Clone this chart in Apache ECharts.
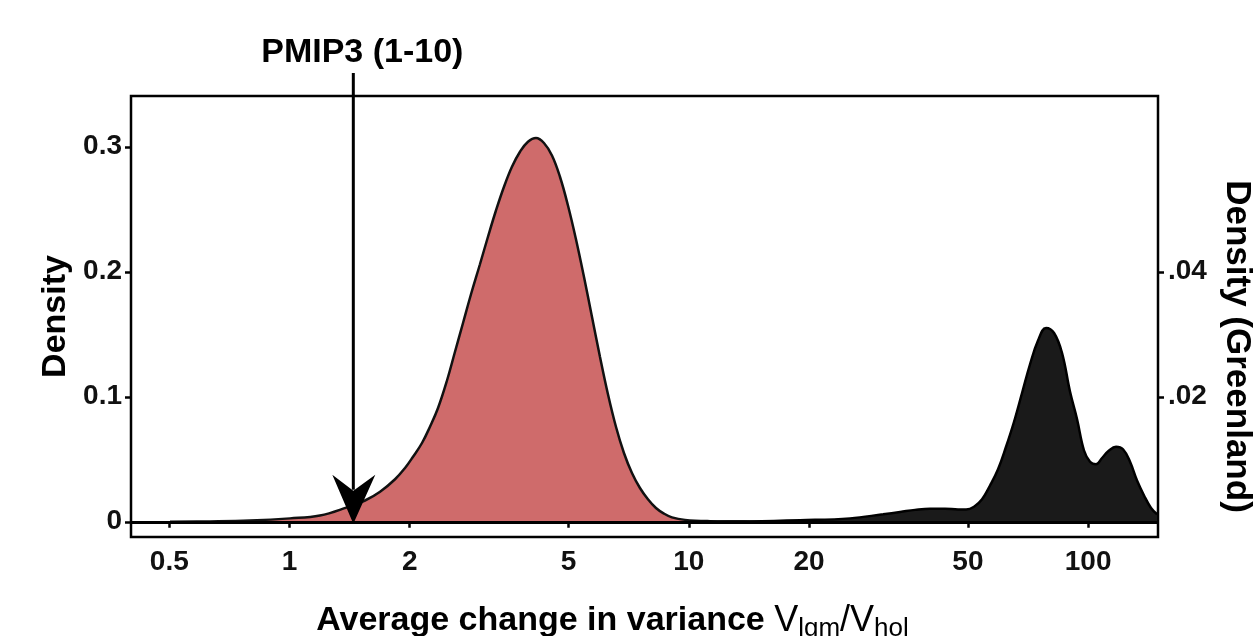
<!DOCTYPE html>
<html><head><meta charset="utf-8">
<script src="https://cdn.jsdelivr.net/npm/echarts@6/dist/echarts.min.js"></script>
<style>html,body{margin:0;padding:0;background:#fff}#c{width:1258px;height:636px}</style>
</head><body><div id="c"></div>
<script>
// ---- data ----
const xTicks = [0.5, 1, 2, 5, 10, 20, 50, 100];
const leftTicks = [0, 0.1, 0.2, 0.3];
const rightTicks = [0.02, 0.04];

// PMIP3 density (left axis)
const pmipX = [0.502, 0.632, 0.796, 1.003, 1.192, 1.393, 1.546, 1.686, 1.838, 1.947, 2.039, 2.147, 2.248, 2.355, 2.480, 2.597, 2.720, 2.848, 2.999, 3.141, 3.289, 3.445, 3.607, 3.778, 3.956, 4.143, 4.338, 4.543, 4.757, 4.982, 5.217, 5.463, 5.721, 5.991, 6.274, 6.570, 6.880, 7.205, 7.545, 7.901, 8.274, 8.664, 9.073, 9.783, 11.30, 15.08, 18.99];
const pmipDensity = [0, 0.0003, 0.001, 0.0027, 0.005, 0.0115, 0.017, 0.024, 0.034, 0.043, 0.052, 0.063, 0.076, 0.091, 0.113, 0.136, 0.159, 0.182, 0.206, 0.228, 0.249, 0.268, 0.284, 0.296, 0.304, 0.307, 0.303, 0.293, 0.276, 0.253, 0.226, 0.196, 0.164, 0.132, 0.102, 0.076, 0.055, 0.039, 0.027, 0.018, 0.011, 0.0065, 0.0035, 0.0015, 0.0005, 0.0001, 0];

// Greenland density (right axis)
const greenlandX = [10.07, 14.23, 18.99, 25.33, 30.65, 33.81, 36.86, 40.18, 43.82, 47.23, 49.46, 51.79, 54.24, 56.80, 59.48, 62.29, 65.23, 68.31, 71.53, 74.91, 78.44, 82.15, 86.03, 90.09, 93.81, 97.65, 101.1, 104.66, 108.34, 112.8, 117.45, 122.28, 127.32, 132.56, 138.03, 143.71, 148.77];
const greenlandDensity = [0, 0.00006, 0.00024, 0.00054, 0.0012, 0.00156, 0.0019, 0.0021, 0.0021, 0.00196, 0.00196, 0.0024, 0.0036, 0.0058, 0.0084, 0.012, 0.016, 0.0206, 0.0252, 0.029, 0.031, 0.0302, 0.027, 0.0208, 0.0164, 0.0114, 0.0096, 0.0092, 0.0102, 0.0114, 0.012, 0.0116, 0.0096, 0.0066, 0.0042, 0.0022, 0.0012];

const arrowX = 1.445;
const arrowLabel = 'PMIP3 (1-10)';

// ---- chart ----
const FONT = '"Liberation Sans", Arial, sans-serif';
const chart = echarts.init(document.getElementById('c'), null, {renderer: 'canvas'});

const tickStyle = {show: true, length: 6, lineStyle: {color: '#000', width: 2.5}};
const labelStyle = {fontFamily: FONT, fontWeight: 'bold', fontSize: 28, color: '#111'};

chart.setOption({
  animation: false,
  backgroundColor: '#fff',
  grid: {left: 131, right: 100, top: 96, bottom: 99, show: true, borderColor: '#000', borderWidth: 2.5, containLabel: false, outerBoundsMode: 'none'},
  xAxis: {
    type: 'log', logBase: 10, min: 0.401, max: 149.6,
    axisLine: {show: false},
    splitLine: {show: false},
    minorTick: {show: false},
    axisTick: Object.assign({customValues: xTicks}, tickStyle),
    axisLabel: Object.assign({customValues: xTicks, margin: 11, formatter: v => String(v)}, labelStyle),
    name: '{b|Average change in variance }{v|V}{s|lgm}{v|/V}{s|hol}',
    nameLocation: 'middle', nameGap: 63,
    nameTextStyle: {
      padding: [0, 64, 0, 0],
      rich: {
        b: {fontFamily: FONT, fontWeight: 'bold', fontSize: 34, color: '#000'},
        v: {fontFamily: FONT, fontWeight: 'normal', fontSize: 36, color: '#000'},
        s: {fontFamily: FONT, fontWeight: 'normal', fontSize: 26, color: '#000', verticalAlign: 'bottom', padding: [16, 0, 0, 0]}
      }
    }
  },
  yAxis: [{
    type: 'value', min: -0.0122, max: 0.3406,
    axisLine: {show: false}, splitLine: {show: false},
    axisTick: Object.assign({customValues: leftTicks}, tickStyle),
    axisLabel: Object.assign({customValues: leftTicks, margin: 9, formatter: v => (v === 0 ? '0' : String(+v.toFixed(2)))}, labelStyle),
    name: 'Density', nameLocation: 'middle', nameGap: 55,
    nameTextStyle: {fontFamily: FONT, fontWeight: 'bold', fontSize: 34, color: '#000'}
  }, {
    type: 'value', min: -0.00244, max: 0.06812, position: 'right',
    axisLine: {show: false}, splitLine: {show: false},
    axisTick: Object.assign({customValues: rightTicks}, tickStyle),
    axisLabel: Object.assign({customValues: rightTicks, margin: 10, formatter: v => String(+v.toFixed(2)).replace(/^0/, '')}, labelStyle),
    name: 'Density (Greenland)', nameLocation: 'middle', nameGap: 61, nameRotate: -90,
    nameTextStyle: {fontFamily: FONT, fontWeight: 'bold', fontSize: 35, color: '#000', padding: [0, 0, 0, 60]}
  }],
  series: [{
    name: 'PMIP3', type: 'line', xAxisIndex: 0, yAxisIndex: 0,
    data: pmipX.map((x, i) => [x, pmipDensity[i]]),
    smooth: 0.4, symbol: 'none', z: 2,
    lineStyle: {color: '#111', width: 2.5},
    areaStyle: {color: '#cf6b6b', opacity: 1},
    markLine: {
      silent: true, symbol: ['none', 'none'], label: {show: false},
      lineStyle: {color: '#000', width: 3, type: 'solid'},
      emphasis: {disabled: true},
      data: [{yAxis: 0}]
    }
  }, {
    name: 'Greenland', type: 'line', xAxisIndex: 0, yAxisIndex: 1,
    data: greenlandX.map((x, i) => [x, greenlandDensity[i]]),
    smooth: 0.4, symbol: 'none', z: 3,
    lineStyle: {color: '#000', width: 2.5},
    areaStyle: {color: '#1a1a1a', opacity: 1}
  }]
});

// annotation arrow, positioned through the axes
const p = chart.convertToPixel({xAxisIndex: 0, yAxisIndex: 0}, [arrowX, 0]);
const ax = p[0], ay = p[1];
chart.setOption({
  graphic: [
    {type: 'line', z: 100, shape: {x1: ax, y1: 73, x2: ax, y2: ay - 32}, style: {stroke: '#000', lineWidth: 3}},
    {type: 'polygon', z: 100, shape: {points: [[ax, ay + 2], [ax - 21, ay - 47], [ax, ay - 31], [ax + 22, ay - 47]]}, style: {fill: '#000'}},
    {type: 'text', z: 100, x: ax + 9, y: 53, style: {text: arrowLabel, font: 'bold 34px ' + FONT, fill: '#000', align: 'center', verticalAlign: 'middle'}}
  ]
});
</script></body></html>
